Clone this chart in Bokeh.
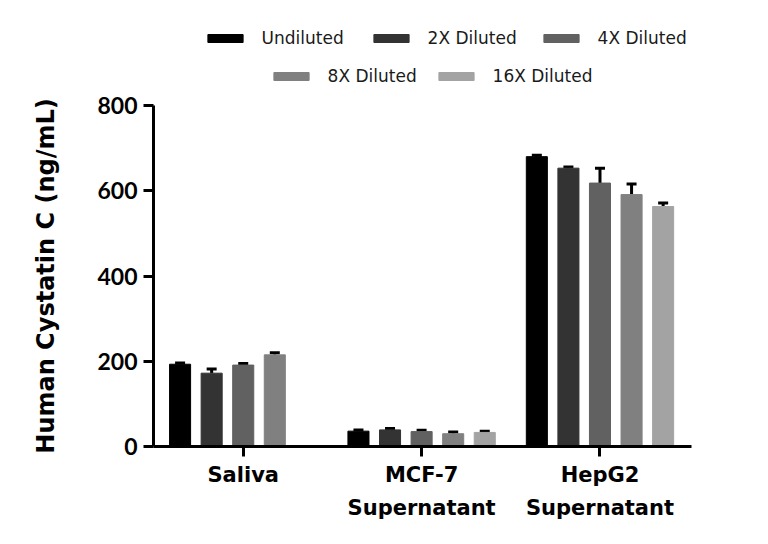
from bokeh.plotting import figure
from bokeh.layouts import column
from bokeh.models import (ColumnDataSource, Whisker, TeeHead, FixedTicker, Legend, LegendItem,
                          LinearAxis, Range1d)
from bokeh.embed import file_html
from bokeh.resources import INLINE

# ---- data ----
groups = ["Saliva", "MCF-7", "HepG2"]
groups_line2 = ["", "Supernatant", "Supernatant"]
series = ["Undiluted", "2X Diluted", "4X Diluted", "8X Diluted", "16X Diluted"]
colors = ["#000000", "#333333", "#616161", "#808080", "#a3a3a3"]

# values per series (Saliva, MCF-7, HepG2); None = not measured
undiluted = [193, 36, 680]
dil_2x = [172, 39, 653]
dil_4x = [191, 35, 618]
dil_8x = [215, 30, 591]
dil_16x = [None, 33, 563]

err_undiluted = [3, 3, 3]
err_2x = [10, 3, 3]
err_4x = [4, 3, 35]
err_8x = [5, 4, 25]
err_16x = [None, 3, 8]

values = [undiluted, dil_2x, dil_4x, dil_8x, dil_16x]
errors = [err_undiluted, err_2x, err_4x, err_8x, err_16x]

y_ticks = [0, 200, 400, 600, 800]

LEG_H = 90
FRAME_LEFT = 153

# ---- main figure ----
p = figure(width=768, height=544 - LEG_H, output_backend="svg", toolbar_location=None,
           x_range=Range1d(-0.503, 2.513), y_range=Range1d(0, 800),
           min_border_left=FRAME_LEFT, min_border_right=77, min_border_top=105 - LEG_H,
           min_border_bottom=98)
p.outline_line_color = None
p.xgrid.visible = False
p.ygrid.visible = False
p.background_fill_color = "white"
p.border_fill_color = "white"

slot = 0.177
bar_w = 0.118
for i, (name, vals, errs, col) in enumerate(zip(series, values, errors, colors)):
    xs, ys, ups = [], [], []
    for g, (v, e) in enumerate(zip(vals, errs)):
        if v is None:
            continue
        xs.append(g + (i - 2) * slot)
        ys.append(v)
        ups.append(v + e)
    src = ColumnDataSource(dict(x=xs, top=ys, upper=ups))
    p.vbar(x="x", top="top", width=bar_w, bottom=0, source=src,
           fill_color=col, line_color=col, line_width=1)
    w = Whisker(source=src, base="x", lower="top", upper="upper", dimension="height",
                line_color="black", line_width=3,
                upper_head=TeeHead(size=10, line_width=3, line_color="black"),
                lower_head=None)
    p.add_layout(w)

# ---- axes ----
yax = p.yaxis[0]
yax.ticker = FixedTicker(ticks=y_ticks)
yax.minor_tick_line_color = None
yax.major_tick_in = 0
yax.major_tick_out = 10
yax.major_tick_line_width = 3
yax.axis_line_width = 3
yax.major_label_text_font = "Lato"
yax.major_label_text_font_style = "bold"
yax.major_label_text_font_size = "23px"
yax.major_label_text_color = "black"
yax.major_label_standoff = 6
yax.axis_label = "Human Cystatin C (ng/mL)"
yax.axis_label_text_font = "DejaVu Sans"
yax.axis_label_text_font_style = "bold"
yax.axis_label_text_font_size = "24px"
yax.axis_label_text_color = "black"
yax.axis_label_standoff = 34

xax = p.xaxis[0]
xax.ticker = FixedTicker(ticks=[0, 1, 2])
xax.major_label_overrides = {i: g for i, g in enumerate(groups)}
xax.minor_tick_line_color = None
xax.major_tick_in = 0
xax.major_tick_out = 10
xax.major_tick_line_width = 3
xax.axis_line_width = 3
xax.major_label_text_font = "DejaVu Sans"
xax.major_label_text_font_style = "bold"
xax.major_label_text_font_size = "21px"
xax.major_label_text_color = "black"
xax.major_label_standoff = 6

xax2 = LinearAxis(ticker=FixedTicker(ticks=[0, 1, 2]),
                  major_label_overrides={i: g for i, g in enumerate(groups_line2)})
xax2.axis_line_color = None
xax2.major_tick_line_color = None
xax2.minor_tick_line_color = None
xax2.major_label_text_font = "DejaVu Sans"
xax2.major_label_text_font_style = "bold"
xax2.major_label_text_font_size = "21px"
xax2.major_label_text_color = "black"
xax2.major_label_standoff = 0
p.add_layout(xax2, "below")

# ---- legend strip (separate figure above the plot; its frame aligns with the plot frame) ----
lg = figure(width=768, height=LEG_H, output_backend="svg", toolbar_location=None,
            x_range=Range1d(0, 1), y_range=Range1d(0, 1),
            min_border_left=0, min_border_right=0, min_border_top=0, min_border_bottom=0)
lg.axis.visible = False
lg.xgrid.visible = False
lg.ygrid.visible = False
lg.outline_line_color = None
lg.background_fill_color = "white"
lg.border_fill_color = "white"

swatch_left = [207, 373, 543, 273, 438]
row_center = [37.5, 37.5, 37.5, 75.5, 75.5]
item_h = 20
for name, col, sl, rc in zip(series, colors, swatch_left, row_center):
    dummy = lg.vbar(x=[-10], top=[-10], width=0.1, fill_color=col, line_color=col, line_width=1)
    leg = Legend(items=[LegendItem(label=name, renderers=[dummy])],
                 location=(sl - 4.4 - FRAME_LEFT, LEG_H - (rc + item_h / 2)),
                 orientation="horizontal", padding=0, margin=0, spacing=0,
                 border_line_color=None, background_fill_alpha=0,
                 glyph_width=44, glyph_height=10, label_standoff=15, label_height=item_h,
                 label_text_font="DejaVu Sans", label_text_font_size="17px",
                 label_text_color="#1a1a1a")
    lg.add_layout(leg)

layout = column(lg, p, spacing=0)
open("out.html", "w").write(file_html(layout, INLINE))
